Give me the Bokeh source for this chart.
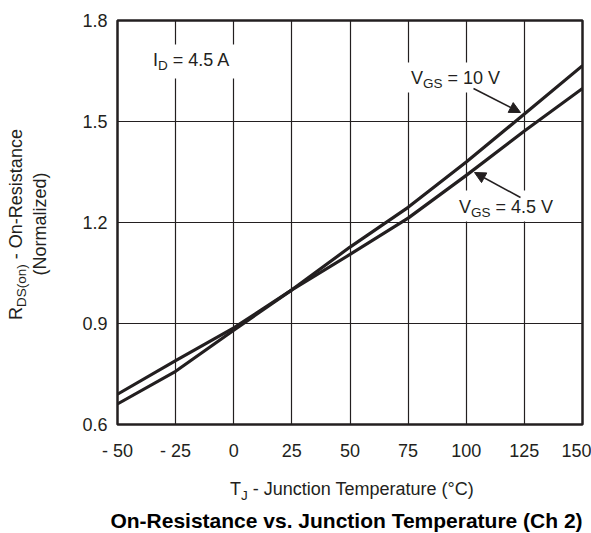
import math
from bokeh.plotting import figure
from bokeh.models import Range1d, FixedTicker, Label, Arrow, NormalHead, BoxAnnotation
from bokeh.layouts import row, column
from bokeh.embed import file_html
from bokeh.resources import INLINE

# ---------------- data ----------------
temps = [-50, -25, 0, 25, 50, 75, 100, 125, 150]
rds_vgs10 = [0.690, 0.790, 0.887, 1.000, 1.127, 1.245, 1.380, 1.522, 1.666]
rds_vgs45 = [0.661, 0.758, 0.880, 1.000, 1.105, 1.213, 1.340, 1.472, 1.598]

x_ticks = [-50, -25, 0, 25, 50, 75, 100, 125, 150]
x_tick_labels = ["- 50", "- 25", "0", "25", "50", "75", "100", "125", "150"]
y_ticks = [0.6, 0.9, 1.2, 1.5, 1.8]
y_tick_labels = ["0.6", "0.9", "1.2", "1.5", "1.8"]

title_text = "On-Resistance vs. Junction Temperature (Ch 2)"

# ---------------- style / layout ----------------
INK = "#231f20"
FONT = "Liberation Sans"
BASE_FIX = 0.42            # label anchor -> alphabetic baseline offset (em)

PW, PH = 591, 533          # page size
LW = 60                    # left strip (y-axis title)
MH = 468                   # main figure height
FL, FR, FT, FB = 117, 582, 20, 424   # plot frame on the page
X0, X1, Y0, Y1 = -50, 150, 0.6, 1.8


def dx(px):
    return X0 + (px - FL) / (FR - FL) * (X1 - X0)


def dy(py):
    return Y0 + (FB - py) / (FB - FT) * (Y1 - Y0)


def ident(v):
    return v


AW = {' ': 278, '(': 333, ')': 333, '-': 333, '.': 278, '=': 584, '°': 400,
      'A': 667, 'C': 722, 'D': 722, 'G': 778, 'I': 278, 'J': 500, 'N': 722,
      'O': 778, 'R': 722, 'S': 667, 'T': 611, 'V': 667,
      'a': 556, 'c': 500, 'd': 556, 'e': 556, 'i': 222, 'l': 222, 'm': 833,
      'n': 556, 'o': 556, 'p': 556, 'r': 333, 's': 500, 't': 278, 'u': 556, 'z': 500}


def tw(text, size):
    return sum(AW.get(c, 556) for c in text) * size / 1000.0


def rich(fig, pieces, px, py, rotated=False, center=False, mx=ident, my=ident):
    total = sum(tw(t, s) for t, s, _ in pieces)
    o = -total / 2 if center else 0.0
    for text, size, shift in pieces:
        lead = len(text) - len(text.lstrip(" "))
        o += tw(text[:lead], size)
        body = text[lead:]
        fix = BASE_FIX * size
        if rotated:
            x, y, ang = px + shift - fix, py - o, math.pi / 2
        else:
            x, y, ang = px + o, py + shift - fix, 0.0
        fig.add_layout(Label(x=mx(x), y=my(y), text=body, text_font=FONT,
                             text_font_size=f"{size}px", text_color=INK,
                             text_baseline="alphabetic", text_align="left",
                             angle=ang))
        o += tw(body, size)


def aux_fig(left, top, right, bottom, bl=0, bt=0, bb=0):
    # frame covers page pixels [left+bl, right] x [top+bt, bottom-bb]
    f = figure(width=right - left, height=bottom - top, output_backend="svg",
               toolbar_location=None, x_range=Range1d(left + bl, right),
               y_range=Range1d(bottom - bb, top + bt), x_axis_location=None,
               y_axis_location=None, min_border=0, min_border_left=bl,
               min_border_top=bt, min_border_bottom=bb, title=None)
    f.outline_line_color = None
    f.grid.visible = False
    f.background_fill_color = "white"
    f.border_fill_color = "white"
    return f


# ---------------- main plot ----------------
p = figure(width=PW - LW, height=MH, output_backend="svg", toolbar_location=None,
           x_range=Range1d(X0, X1), y_range=Range1d(Y0, Y1),
           min_border_left=FL - LW, min_border_right=PW - FR,
           min_border_top=FT, min_border_bottom=MH - FB)
p.title.text = ""
p.background_fill_color = "white"
p.border_fill_color = "white"
p.outline_line_color = INK
p.outline_line_width = 2.5

for ax in (p.xaxis[0], p.yaxis[0]):
    ax.axis_line_color = None
    ax.major_tick_line_color = None
    ax.minor_tick_line_color = None
    ax.major_tick_out = 0
    ax.major_tick_in = 0
    ax.minor_tick_out = 0
    ax.minor_tick_in = 0
    ax.major_label_text_font = FONT
    ax.major_label_text_font_size = "18px"
    ax.major_label_text_color = INK

p.xaxis.ticker = FixedTicker(ticks=x_ticks)
p.yaxis.ticker = FixedTicker(ticks=y_ticks)
p.xaxis.major_label_overrides = {t: l for t, l in zip(x_ticks, x_tick_labels)}
p.yaxis.major_label_overrides = {t: l for t, l in zip(y_ticks, y_tick_labels)}
p.xaxis.major_label_standoff = 16
p.yaxis.major_label_standoff = 10

p.grid.grid_line_color = INK
p.grid.grid_line_width = 1.2
p.grid.grid_line_alpha = 1.0

p.line(temps, rds_vgs10, line_color=INK, line_width=3.2, line_join="round")
p.line(temps, rds_vgs45, line_color=INK, line_width=3.2, line_join="round")

# white boxes behind in-plot labels
for l, r, t, b in [(146, 240, 44, 78), (405, 508, 62, 92), (452, 562, 190, 221)]:
    p.add_layout(BoxAnnotation(left=dx(l), right=dx(r), top=dy(t), bottom=dy(b),
                               fill_color="white", fill_alpha=1.0, line_color=None))

rich(p, [("I", 18, 0), ("D", 13.5, 3.5), (" = 4.5 A", 18, 0)], 152.5, 67.5, mx=dx, my=dy)
rich(p, [("V", 18, 0), ("GS", 13.5, 4), (" = 10 V", 18, 0)], 410.5, 85, mx=dx, my=dy)
rich(p, [("V", 18, 0), ("GS", 13.5, 4), (" = 4.5 V", 18, 0)], 458.5, 214, mx=dx, my=dy)

head = dict(size=11, fill_color=INK, line_color=INK, line_width=1)
p.add_layout(Arrow(end=NormalHead(**head), x_start=dx(473), y_start=dy(88),
                   x_end=dx(520), y_end=dy(112), line_color=INK, line_width=1.5))
p.add_layout(Arrow(end=NormalHead(**head), x_start=dx(520), y_start=dy(197),
                   x_end=dx(474), y_end=dy(172), line_color=INK, line_width=1.5))

# ---------------- left strip: y-axis title ----------------
left = aux_fig(0, 0, LW, MH, bt=FT, bb=MH - FB)
rich(left, [("R", 18, 0), ("DS(on)", 13.5, 4), (" - On-Resistance", 18, 0)],
     23, 224, rotated=True, center=True)
rich(left, [("(Normalized)", 18, 0)], 47.5, 223.5, rotated=True, center=True)

# ---------------- bottom strip: x-axis title and chart title ----------------
bottom = aux_fig(0, MH, PW, PH)
rich(bottom, [("T", 18, 0), ("J", 13.5, 4), (" - Junction Temperature (°C)", 18, 0)],
     352.5, 496.5, center=True)
bottom.add_layout(Label(x=346, y=528.5 - BASE_FIX * 21, text=title_text, text_font=FONT,
                        text_font_size="21px", text_font_style="bold",
                        text_color="black", text_baseline="alphabetic",
                        text_align="center"))

layout = column(row(left, p, spacing=0), bottom, spacing=0)
open("out.html", "w").write(file_html(layout, INLINE))
